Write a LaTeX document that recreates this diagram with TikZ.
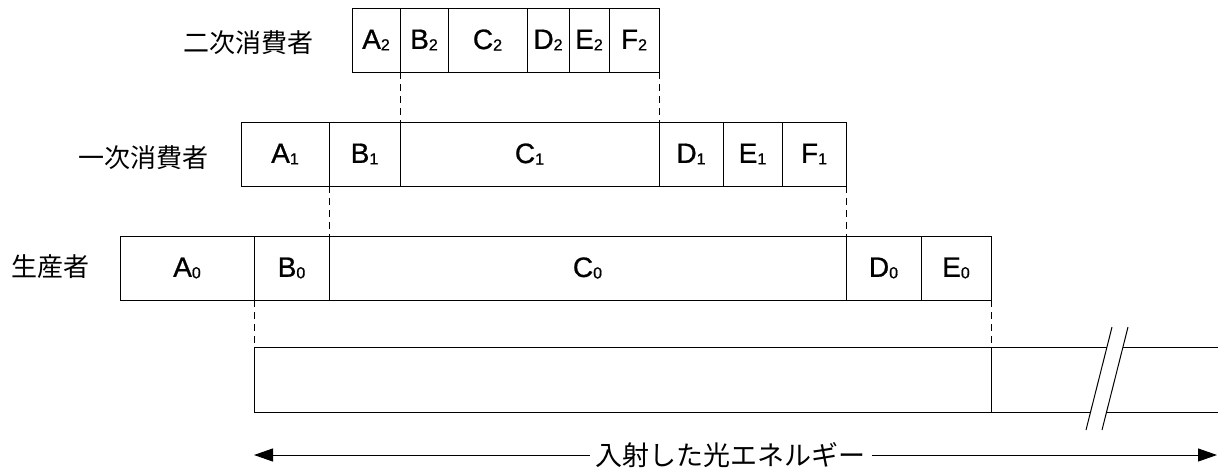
\documentclass[tikz,border=0pt]{standalone}
\usepackage{fontspec}
\setmainfont{Liberation Sans}
\newfontfamily\cellfont[FakeBold=0.8]{Liberation Sans}
\newfontfamily\jpfont{Noto Sans CJK JP}
\usetikzlibrary{arrows.meta}
\newcommand\sbs[1]{\raisebox{-1.5pt}{\fontsize{16}{16}\selectfont #1}}
\newcommand\cellnode[6]{%
  \node[cellbox, minimum width={(#3-#2)*1pt}, minimum height={(#5-#4)*1pt}] (#1) at ({(#2+#3)/2},{(#4+#5)/2}) {#6};}
\tikzset{
  cellbox/.style={draw=black, line width=1pt, inner sep=0pt, outer sep=0pt, font=\cellfont\fontsize{28}{28}\selectfont},
  rowlabel/.style={font=\jpfont\fontsize{26}{26}\selectfont, inner sep=0pt},
  guide/.style={line width=1pt, dash pattern=on 7pt off 5pt},
  plainline/.style={line width=1pt},
}
\begin{document}
\begin{tikzpicture}[x=1pt,y=-1pt]
\useasboundingbox (0,0) rectangle (1218,472);
\fill[white] (0,0) rectangle (1218,472);
% labels
\node[rowlabel] (l2) at (248,43) {二次消費者};
\node[rowlabel] (l1) at (143,158) {一次消費者};
\node[rowlabel] (l0) at (50,267) {生産者};
% row 2
\cellnode{a2}{352}{400}{8}{72}{A\sbs{2}}
\cellnode{b2}{400}{448}{8}{72}{B\sbs{2}}
\cellnode{c2}{448}{527}{8}{72}{C\sbs{2}}
\cellnode{d2}{527}{569}{8}{72}{D\sbs{2}}
\cellnode{e2}{569}{609}{8}{72}{E\sbs{2}}
\cellnode{f2}{609}{659}{8}{72}{F\sbs{2}}
% row 1
\cellnode{a1}{241}{329}{122}{186}{A\sbs{1}}
\cellnode{b1}{329}{400}{122}{186}{B\sbs{1}}
\cellnode{c1}{400}{659}{122}{186}{C\sbs{1}}
\cellnode{d1}{659}{723}{122}{186}{D\sbs{1}}
\cellnode{e1}{723}{782}{122}{186}{E\sbs{1}}
\cellnode{f1}{782}{846}{122}{186}{F\sbs{1}}
% row 0
\cellnode{a0}{120}{254}{236}{300}{A\sbs{0}}
\cellnode{b0}{254}{329}{236}{300}{B\sbs{0}}
\cellnode{c0}{329}{846}{236}{300}{C\sbs{0}}
\cellnode{d0}{846}{921}{236}{300}{D\sbs{0}}
\cellnode{e0}{921}{991}{236}{300}{E\sbs{0}}
% light box
\cellnode{lbox}{254}{991}{347}{412}{}
% dashed guides
\draw[guide] (b2.south west) -- (c1.north west);
\draw[guide] (f2.south east) -- (c1.north east);
\draw[guide] (b1.south west) -- (c0.north west);
\draw[guide] (f1.south east) -- (c0.north east);
\draw[guide] (b0.south west) -- (lbox.north west);
\draw[guide] (e0.south east) -- (lbox.north east);
% continuation with break
\coordinate (t1) at (1107,347);
\coordinate (t2) at (1123,347);
\coordinate (tr) at (1218,347);
\coordinate (u1) at (1090,412);
\coordinate (u2) at (1106,412);
\coordinate (ur) at (1218,412);
\draw[plainline] (lbox.north east) -- (t1);
\draw[plainline] (t2) -- (tr);
\draw[plainline] (lbox.south east) -- (u1);
\draw[plainline] (u2) -- (ur);
\coordinate (k1a) at (1112,327);
\coordinate (k1b) at (1086,430);
\coordinate (k2a) at (1128,327);
\coordinate (k2b) at (1102,430);
\draw[plainline] (k1a) -- (k1b);
\draw[plainline] (k2a) -- (k2b);
% energy arrow
\node[font=\jpfont\fontsize{27}{27}\selectfont, inner sep=0pt] (elabel) at (730,455) {入射した光エネルギー};
\coordinate (arL) at (254,455);
\coordinate (arR) at (1217,455);
\draw[line width=1pt, -{Triangle[length=19pt,width=13pt]}] ([xshift=-5pt]elabel.west) -- (arL);
\draw[line width=1pt, -{Triangle[length=19pt,width=13pt]}] ([xshift=7pt]elabel.east) -- (arR);
\end{tikzpicture}
\end{document}
